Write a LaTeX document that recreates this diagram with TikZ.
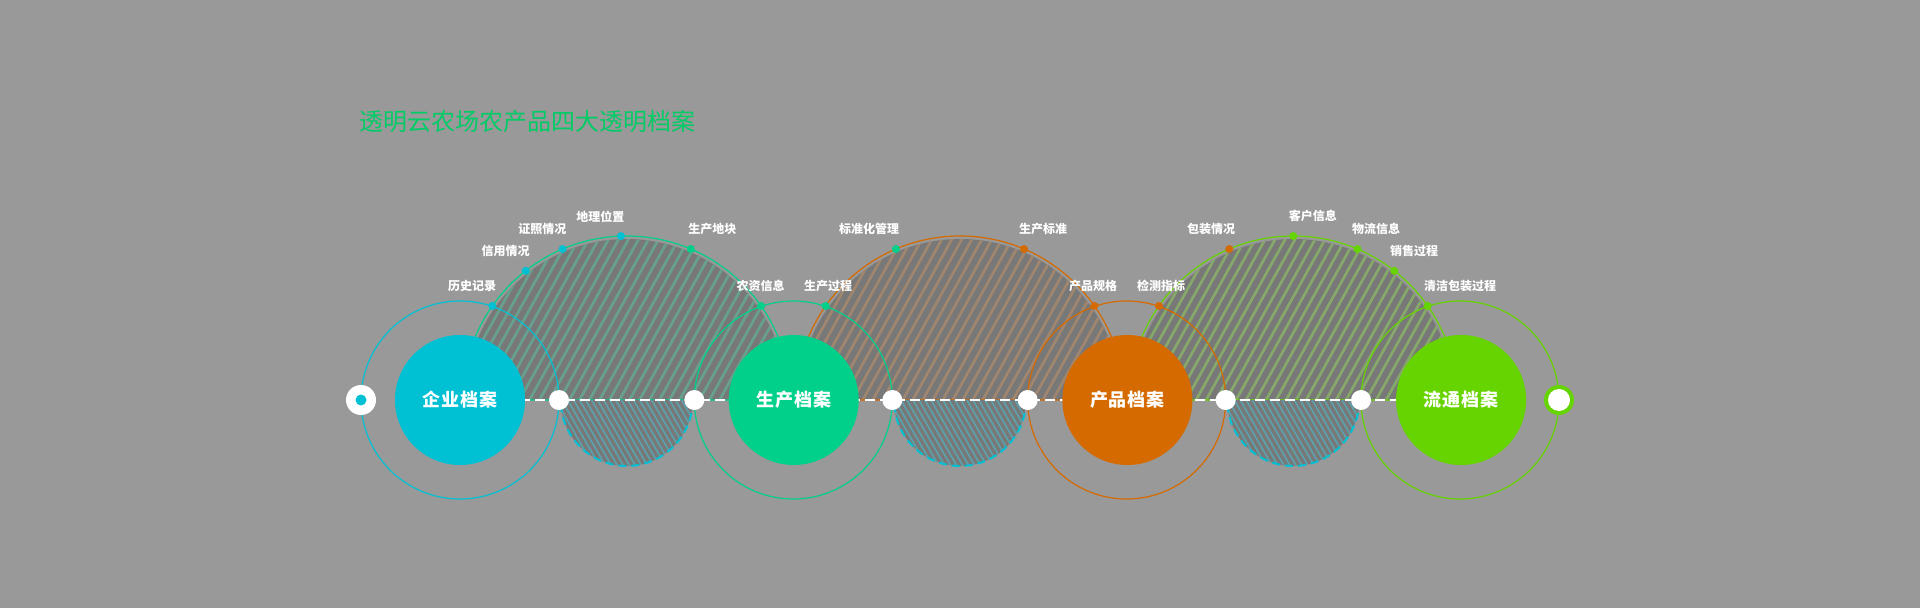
\documentclass[tikz,border=0pt]{standalone}
\usepackage{fontspec}
\setmainfont{Noto Sans CJK SC}
\usepackage{xcolor}
\usetikzlibrary{positioning}

\definecolor{bggray}{HTML}{999999}
\definecolor{hatchbg}{HTML}{787878}
\definecolor{cyanA}{HTML}{00C1D4}
\definecolor{greenA}{HTML}{00D08A}
\definecolor{orangeA}{HTML}{D46A00}
\definecolor{limeA}{HTML}{66D400}
\definecolor{tealS}{HTML}{68A090}
\definecolor{brownS}{HTML}{A0866E}
\definecolor{limeS}{HTML}{86A86A}
\definecolor{tealL}{HTML}{5CA2AC}
\definecolor{titleG}{HTML}{00CC66}

\begin{document}
\begin{tikzpicture}[
    x=1pt, y=1pt,
    node distance=203.3pt,
    core/.style={circle, minimum size=130pt, inner sep=0pt, text=white, font=\fontsize{18}{18}\selectfont\bfseries\addfontfeatures{LetterSpace=5}},
    ring/.style={line width=1.2pt},
    hub/.style={circle, fill=white, minimum size=20pt, inner sep=0pt},
    pin/.style={circle, minimum size=8pt, inner sep=0pt},
    endcap/.style={circle, minimum size=30pt, inner sep=0pt},
    tag/.style={text=white, font=\fontsize{12}{12}\selectfont\bfseries, inner sep=0pt},
    axis/.style={white, line width=2pt, dash pattern=on 10pt off 5pt},
    stripe/.style={line width=2.7pt},
    fine/.style={line width=1.6pt}
]

% Canvas
\fill[bggray] (0,-208) rectangle (1920,400);
\useasboundingbox (0,-208) rectangle (1920,400);

% Centres
\coordinate (c1) at (460,0);
\coordinate (c2) at (793.3,0);
\coordinate (c3) at (1126.7,0);
\coordinate (c4) at (1460,0);
\coordinate (m1) at (626.7,0);
\coordinate (m2) at (960,0);
\coordinate (m3) at (1293.3,0);

% Upper half discs
\foreach \m/\col/\edge in {m1/tealS/greenA, m2/brownS/orangeA, m3/limeS/limeA} {
  \begin{scope}
    \clip ([xshift=161pt]\m) arc[start angle=0, end angle=180, radius=161pt] -- cycle;
    \fill[hatchbg] ([xshift=-170pt, yshift=-2pt]\m) rectangle ([xshift=170pt, yshift=170pt]\m);
    \foreach \x in {-260,-250,...,170}
      \draw[stripe, \col] ([xshift=\x pt, yshift=-5pt]\m) -- ++(61:200pt);
  \end{scope}
  \draw[ring, \edge] ([xshift=164pt]\m) arc[start angle=0, end angle=180, radius=164pt] -- cycle;
}

% Lower half discs
\foreach \m in {m1,m2,m3} {
  \begin{scope}
    \clip ([xshift=66pt]\m) arc[start angle=0, end angle=-180, radius=66pt] -- cycle;
    \fill[hatchbg] ([xshift=-70pt, yshift=2pt]\m) rectangle ([xshift=70pt, yshift=-70pt]\m);
    \foreach \x in {-110,-104,...,70}
      \draw[fine, tealL] ([xshift=\x pt, yshift=5pt]\m) -- ++(-60:100pt);
  \end{scope}
  \draw[cyanA, line width=2pt, dash pattern=on 8pt off 5pt] ([xshift=66pt]\m) arc[start angle=0, end angle=-180, radius=66pt];
}

% Outer rings
\draw[ring, cyanA] (c1) circle[radius=99pt];
\draw[ring, greenA] (c2) circle[radius=99pt];
\draw[ring, orangeA] (c3) circle[radius=99pt];
\draw[ring, limeA] (c4) circle[radius=99pt];

% Axis
\draw[axis] (c1) -- (c4);

% Ends
\node[endcap, fill=white] (start) at (361,0) {};
\node[circle, fill=cyanA, minimum size=11pt, inner sep=0pt] (startdot) at (start) {};
\node[endcap, fill=limeA] (finish) at (1559,0) {};
\node[circle, fill=white, minimum size=22pt, inner sep=0pt] (finishdot) at (finish) {};

% Hubs
\node[hub] (h1) at ([xshift=99pt]c1) {};
\node[hub] (h2) at ([xshift=-99pt]c2) {};
\node[hub] (h3) at ([xshift=99pt]c2) {};
\node[hub] (h4) at ([xshift=-99pt]c3) {};
\node[hub] (h5) at ([xshift=99pt]c3) {};
\node[hub] (h6) at ([xshift=-99pt]c4) {};

% Main nodes
\node[core, fill=cyanA] (ent) at (c1) {企业档案};
\node[core, fill=greenA, right=of ent] (prod) {生产档案};
\node[core, fill=orangeA, right=of prod] (item) {产品档案};
\node[core, fill=limeA, right=of item] (flow) {流通档案};

% Pins on the arcs
\node[pin, fill=cyanA] (p1) at ([shift={(145:164pt)}]m1) {};
\node[pin, fill=cyanA] (p2) at ([shift={(128:164pt)}]m1) {};
\node[pin, fill=cyanA] (p3) at ([shift={(113:164pt)}]m1) {};
\node[pin, fill=cyanA] (p4) at ([shift={(92:164pt)}]m1) {};
\node[pin, fill=greenA] (p5) at ([shift={(67:164pt)}]m1) {};
\node[pin, fill=greenA] (p6) at ([shift={(35:164pt)}]m1) {};
\node[pin, fill=greenA] (p7) at ([shift={(145:164pt)}]m2) {};
\node[pin, fill=greenA] (p8) at ([shift={(113:164pt)}]m2) {};
\node[pin, fill=orangeA] (p9) at ([shift={(67:164pt)}]m2) {};
\node[pin, fill=orangeA] (p10) at ([shift={(35:164pt)}]m2) {};
\node[pin, fill=orangeA] (p11) at ([shift={(145:164pt)}]m3) {};
\node[pin, fill=orangeA] (p12) at ([shift={(113:164pt)}]m3) {};
\node[pin, fill=limeA] (p13) at ([shift={(90:164pt)}]m3) {};
\node[pin, fill=limeA] (p14) at ([shift={(67:164pt)}]m3) {};
\node[pin, fill=limeA] (p15) at ([shift={(52:164pt)}]m3) {};
\node[pin, fill=limeA] (p16) at ([shift={(35:164pt)}]m3) {};

% Labels
\node[tag] (t1) at (472,114) {历史记录};
\node[tag] (t2) at (505.7,149.3) {信用情况};
\node[tag] (t3) at (542.3,171) {证照情况};
\node[tag] (t4) at (600.3,183.3) {地理位置};
\node[tag] (t5) at (712.3,171) {生产地块};
\node[tag] (t6) at (760.7,114) {农资信息};
\node[tag] (t7) at (828,114) {生产过程};
\node[tag] (t8) at (869,171) {标准化管理};
\node[tag] (t9) at (1043,171) {生产标准};
\node[tag] (t10) at (1093,114) {产品规格};
\node[tag] (t11) at (1161,114) {检测指标};
\node[tag] (t12) at (1211,171) {包装情况};
\node[tag] (t13) at (1312.8,184.3) {客户信息};
\node[tag] (t14) at (1376,171) {物流信息};
\node[tag] (t15) at (1414,149) {销售过程};
\node[tag] (t16) at (1460,114) {清洁包装过程};

% Title
\node[text=titleG, font=\fontsize{24}{24}\selectfont, inner sep=0pt] (title) at (527,278.3) {透明云农场农产品四大透明档案};

\end{tikzpicture}
\end{document}
